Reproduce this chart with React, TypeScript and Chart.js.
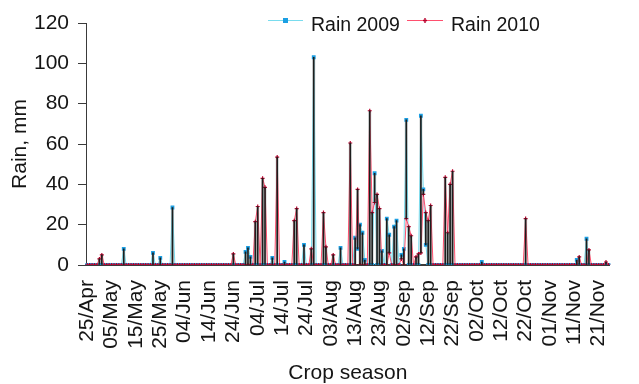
import React, { useEffect, useRef } from "react";
import { Chart, registerables } from "chart.js";

Chart.register(...registerables);

// ---- categories: one per day of the crop season, 25/Apr .. 25/Nov ----
const SEASON_START = { month: 3, day: 25 }; // 25 April (month is 0-based)
const DAY_COUNT = 215;
const MONTH_NAMES = ["Jan", "Feb", "Mar", "Apr", "May", "Jun", "Jul", "Aug", "Sep", "Oct", "Nov", "Dec"];

const TICK_LABELS = [
  "25/Apr", "05/May", "15/May", "25/May", "04/Jun", "14/Jun", "24/Jun", "04/Jul",
  "14/Jul", "24/Jul", "03/Aug", "13/Aug", "23/Aug", "02/Sep", "12/Sep", "22/Sep",
  "02/Oct", "12/Oct", "22/Oct", "01/Nov", "11/Nov", "21/Nov",
];

// ---- rainy days (all other days: 0 mm) ----
const RAIN_2009_DATES = [
  "10/May", "22/May", "25/May", "30/May", "29/Jun", "30/Jun", "01/Jul", "10/Jul",
  "15/Jul", "23/Jul", "27/Jul", "07/Aug", "13/Aug", "14/Aug", "15/Aug", "16/Aug",
  "17/Aug", "21/Aug", "24/Aug", "26/Aug", "27/Aug", "29/Aug", "30/Aug", "01/Sep",
  "02/Sep", "03/Sep", "09/Sep", "10/Sep", "11/Sep", "04/Oct", "12/Nov", "16/Nov",
];
const RAIN_2009_MM = [
  8, 6, 3.5, 28.5, 6.5, 8.5, 4, 3.5,
  1.5, 10, 103, 8.5, 13.5, 8, 20, 16,
  2.5, 45.5, 7, 23, 15, 19, 22, 5,
  8, 72, 74, 37.5, 10, 1.5, 2.5, 13,
];

const RAIN_2010_DATES = [
  "30/Apr", "01/May", "24/Jun", "03/Jul", "04/Jul", "06/Jul", "07/Jul", "12/Jul",
  "19/Jul", "20/Jul", "26/Jul", "31/Jul", "01/Aug", "04/Aug", "11/Aug", "14/Aug",
  "19/Aug", "20/Aug", "21/Aug", "22/Aug", "23/Aug", "27/Aug", "01/Sep", "03/Sep",
  "04/Sep", "05/Sep", "07/Sep", "08/Sep", "09/Sep", "10/Sep", "11/Sep", "12/Sep",
  "13/Sep", "19/Sep", "20/Sep", "21/Sep", "22/Sep", "22/Oct", "13/Nov", "17/Nov",
  "24/Nov",
];
const RAIN_2010_MM = [
  3, 5, 5.5, 21.5, 29, 43, 38.5, 53.5,
  22, 28, 8, 26, 9, 5, 60.5, 37.5,
  76.5, 26, 31, 35, 28, 6, 3, 23,
  19, 14.5, 4, 5.5, 6, 35, 26, 22,
  29.5, 43.5, 16, 40, 46.5, 23, 4, 7.5,
  1.5,
];

const FONT = "'Liberation Sans', Arial, sans-serif";
const TEXT = "#151515";
const AXIS = "#3a3a3a";
const C2009_LINE = "#79dcee";
const C2009_MARK = "#1c9fe3";
const C2010_LINE = "#ff4f6e";
const C2010_MARK = "#b8002c";

function buildCategories(): string[] {
  const out: string[] = [];
  for (let i = 0; i < DAY_COUNT; i++) {
    const dt = new Date(2010, SEASON_START.month, SEASON_START.day + i);
    out.push(String(dt.getDate()).padStart(2, "0") + "/" + MONTH_NAMES[dt.getMonth()]);
  }
  return out;
}

function expand(cats: string[], dates: string[], mm: number[]): number[] {
  return cats.map((c) => {
    const k = dates.indexOf(c);
    return k >= 0 ? mm[k] : 0;
  });
}

const legendPlugin = {
  id: "excelLegend",
  afterDraw(chart: any) {
    const ctx = chart.ctx as CanvasRenderingContext2D;
    const items = [
      { ds: 0, x0: 268, x1: 303, tx: 311 },
      { ds: 1, x0: 407, x1: 443, tx: 451 },
    ];
    const yLine = 20.5;
    ctx.save();
    items.forEach((it) => {
      const ds = chart.data.datasets[it.ds];
      ctx.strokeStyle = ds.borderColor;
      ctx.lineWidth = 1.2;
      ctx.beginPath();
      ctx.moveTo(it.x0, yLine);
      ctx.lineTo(it.x1, yLine);
      ctx.stroke();
      const cx = (it.x0 + it.x1) / 2;
      if (it.ds === 0) {
        ctx.fillStyle = C2009_MARK;
        ctx.fillRect(cx - 2.5, yLine - 2.5, 5, 5);
      } else {
        ctx.strokeStyle = C2010_MARK;
        ctx.lineWidth = 1.4;
        ctx.beginPath();
        ctx.moveTo(cx - 2, yLine);
        ctx.lineTo(cx + 2, yLine);
        ctx.moveTo(cx, yLine - 2.5);
        ctx.lineTo(cx, yLine + 2.5);
        ctx.stroke();
      }
      ctx.fillStyle = TEXT;
      ctx.font = "19.5px " + FONT;
      ctx.textAlign = "left";
      ctx.textBaseline = "alphabetic";
      ctx.fillText(ds.label, it.tx, 30.5);
    });
    ctx.restore();
  },
};

export default function App() {
  const canvasRef = useRef<HTMLCanvasElement | null>(null);

  useEffect(() => {
    const canvas = canvasRef.current;
    if (!canvas) return;
    const categories = buildCategories();
    const rain2009 = expand(categories, RAIN_2009_DATES, RAIN_2009_MM);
    const rain2010 = expand(categories, RAIN_2010_DATES, RAIN_2010_MM);
    const highLow = categories.map((_, i) => {
      const a = rain2009[i];
      const b = rain2010[i];
      return a === b ? null : [Math.min(a, b), Math.max(a, b)];
    });

    const chart = new Chart(canvas, {
      type: "line",
      data: {
        labels: categories,
        datasets: [
          {
            label: "Rain 2009",
            data: rain2009,
            borderColor: C2009_LINE,
            borderWidth: 1,
            pointStyle: "rect",
            pointRadius: 2.7,
            pointBackgroundColor: C2009_MARK,
            pointBorderColor: C2009_MARK,
            pointBorderWidth: 0,
            tension: 0,
            order: 2,
          } as any,
          {
            label: "Rain 2010",
            data: rain2010,
            borderColor: C2010_LINE,
            borderWidth: 1,
            pointStyle: "cross",
            pointRadius: 2,
            pointBorderColor: C2010_MARK,
            pointBorderWidth: 1.2,
            tension: 0,
            order: 1,
          } as any,
          {
            type: "bar",
            label: "hl-fill",
            data: highLow,
            backgroundColor: "rgba(130,140,140,0.35)",
            borderWidth: 0,
            barThickness: 2.5,
            grouped: false,
            order: 4,
          } as any,
          {
            type: "bar",
            label: "hl-line",
            data: highLow,
            backgroundColor: "#1e1e1e",
            borderWidth: 0,
            barThickness: 1,
            grouped: false,
            order: 0,
          } as any,
        ],
      },
      options: {
        responsive: false,
        animation: false,
        layout: { padding: { top: 23, right: 1, left: 0, bottom: 0 } },
        plugins: {
          legend: { display: false },
          tooltip: { enabled: false },
        },
        scales: {
          x: {
            type: "category",
            offset: true,
            grid: { display: false, drawTicks: false },
            border: { display: true, color: AXIS, width: 2 },
            ticks: {
              autoSkip: false,
              minRotation: 90,
              maxRotation: 90,
              padding: 15,
              color: TEXT,
              font: { family: FONT, size: 21 },
              callback: (_v: any, index: number) => {
                const lab = categories[index];
                return TICK_LABELS.includes(lab) ? lab : null;
              },
            },
            title: {
              display: true,
              text: "Crop season",
              color: TEXT,
              font: { family: FONT, size: 21, lineHeight: 1 },
              padding: 0,
            },
            afterFit: (s: any) => {
              s.height = 119;
            },
          },
          y: {
            min: 0,
            max: 120,
            ticks: {
              stepSize: 20,
              padding: 9,
              color: TEXT,
              font: { family: FONT, size: 21 },
            },
            grid: { drawOnChartArea: false, drawTicks: true, tickLength: 8, color: AXIS },
            border: { display: true, color: AXIS, width: 1 },
            title: {
              display: true,
              text: "Rain, mm",
              color: TEXT,
              font: { family: FONT, size: 21, lineHeight: 1 },
              padding: { top: 9.5, bottom: 0 },
            },
            afterFit: (s: any) => {
              s.width = 86;
            },
          },
        },
      } as any,
      plugins: [legendPlugin],
    });

    return () => chart.destroy();
  }, []);

  return (
    <div style={{ position: "absolute", left: 0, top: 0, width: 639, height: 384, background: "#fff" }}>
      <canvas ref={canvasRef} width={639} height={384} style={{ display: "block" }} />
    </div>
  );
}
